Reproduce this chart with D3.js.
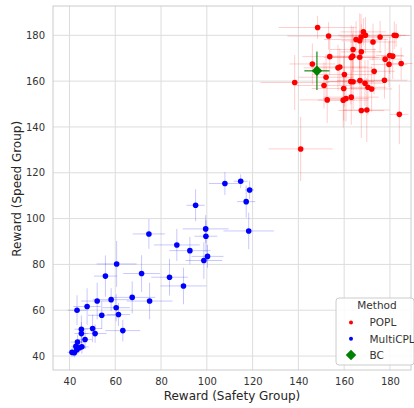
<!DOCTYPE html>
<html>
<head>
<meta charset="utf-8">
<script src="https://cdn.jsdelivr.net/npm/d3@7"></script>
<style>
  body { margin: 0; background: #fff; }
  text { font-family: "DejaVu Sans", sans-serif; }
</style>
</head>
<body>
<div id="chart"></div>
<script>
// POPL runs
const poplX = [148.4, 153.2, 168.4, 169.3, 167.4, 165.2, 166.8, 172.6, 175.7, 181.9, 182.7, 163.9, 167.5, 163.1, 163.7, 166.8,
  153.7, 179.9, 181.2, 177.9, 179.6, 184.9, 146.1, 157.3, 158.1, 173.1, 160.1, 152.1, 138.4, 162.9, 163.9, 166.9,
  169.1, 170.4, 172.0, 177.6, 151.2, 159.8, 152.6, 159.6, 160.8, 163.1, 167.5, 169.9, 184.1, 141.0];
const poplY = [183.4, 179.7, 181.5, 180.0, 179.3, 178.2, 177.6, 177.1, 179.3, 180.0, 179.9, 173.8, 172.8, 170.3, 170.9, 170.4,
  170.7, 171.2, 170.9, 169.6, 167.3, 167.7, 167.5, 165.8, 166.2, 164.3, 162.9, 161.7, 159.4, 159.8, 159.7, 160.3,
  159.1, 157.3, 156.6, 160.4, 158.1, 156.8, 151.8, 151.7, 152.4, 153.0, 147.2, 147.4, 145.5, 130.4];
const poplXErr = [17, 18, 10, 12, 9, 14, 8, 10, 9, 5, 6, 10, 9, 12, 10, 12,
  12, 6, 5, 7, 8, 5, 10, 15, 12, 9, 14, 12, 15, 10, 12, 10,
  8, 8, 9, 10, 12, 14, 12, 11, 10, 12, 10, 10, 4, 14];
const poplYErr = [5, 6, 6, 8, 10, 8, 12, 8, 7, 6, 5, 10, 12, 14, 10, 12,
  8, 8, 10, 9, 10, 7, 9, 10, 8, 10, 14, 10, 12, 10, 12, 14,
  10, 12, 10, 8, 10, 14, 10, 12, 10, 12, 12, 14, 13, 14];

// MultiCPL runs
const multiX = [43.3, 47.7, 52.1, 55.7, 60.6, 58.2, 54.1, 60.4, 61.4, 67.4, 71.5, 74.7, 75.0, 83.7, 86.9, 89.8,
  92.6, 95.1, 63.3, 50.1, 51.2, 45.2, 45.2, 46.8, 43.5, 41.1, 42.1, 43.2, 44.3, 45.4, 42.8,
  99.5, 99.6, 100.3, 98.7, 107.9, 114.8, 118.7, 117.2, 118.3];
const multiY = [60.0, 61.6, 64.0, 74.9, 80.2, 64.6, 57.8, 61.1, 58.1, 65.6, 76.0, 93.3, 64.0, 74.4, 88.5, 70.6,
  86.0, 105.8, 51.1, 52.0, 49.8, 51.7, 49.8, 47.2, 46.1, 41.6, 41.4, 42.7, 43.6, 44.0, 44.2,
  95.5, 92.3, 83.5, 81.7, 115.3, 116.3, 112.5, 107.4, 94.6];
const multiXErr = [4, 6, 7, 5, 8.7, 8, 6, 6, 5, 10, 8, 7, 10, 8, 10, 10,
  9, 4, 7.6, 4, 5, 3, 3, 3, 3, 2, 2, 2, 3, 3, 2,
  10, 5, 7, 8, 7, 3, 2, 4, 11];
const multiYErr = [6.5, 8, 8, 9, 10, 5, 6, 6, 5, 7, 8, 6.5, 8, 8, 7, 8,
  6, 7, 4.7, 6, 4, 6, 5, 4, 3, 2, 2, 2, 2, 3, 2,
  6, 7, 5, 8, 5, 3, 4, 7, 8];

// BC
const bcX = [148.1];
const bcY = [164.5];
const bcXErr = [5.5];
const bcYErr = [8.4];

const xTicks = [40, 60, 80, 100, 120, 140, 160, 180];
const yTicks = [40, 60, 80, 100, 120, 140, 160, 180];
const methods = ["POPL", "MultiCPL", "BC"];

const width = 414, height = 408;
const margin = { top: 6, right: 3, bottom: 38, left: 53 };

const svg = d3.select("#chart").append("svg").attr("width", width).attr("height", height);

const x = d3.scaleLinear().domain([32.8, 189.2]).range([margin.left, width - margin.right]);
const y = d3.scaleLinear().domain([33.9, 192.8]).range([height - margin.bottom, margin.top]);

// grid
const grid = svg.append("g").attr("class", "grid");
grid.selectAll("line.gx").data(xTicks).enter().append("line")
    .attr("x1", d => x(d)).attr("x2", d => x(d))
    .attr("y1", margin.top).attr("y2", height - margin.bottom)
    .attr("stroke", "#dddddd").attr("stroke-width", 1);
grid.selectAll("line.gy").data(yTicks).enter().append("line")
    .attr("y1", d => y(d)).attr("y2", d => y(d))
    .attr("x1", margin.left).attr("x2", width - margin.right)
    .attr("stroke", "#dddddd").attr("stroke-width", 1);

// frame
svg.append("rect")
    .attr("x", margin.left).attr("y", margin.top)
    .attr("width", width - margin.left - margin.right)
    .attr("height", height - margin.top - margin.bottom)
    .attr("fill", "none").attr("stroke", "#cccccc").attr("stroke-width", 1);

// axes
const xAxis = svg.append("g").attr("transform", "translate(0," + (height - margin.bottom) + ")")
    .call(d3.axisBottom(x).tickValues(xTicks).tickSize(0).tickPadding(8));
const yAxis = svg.append("g").attr("transform", "translate(" + margin.left + ",0)")
    .call(d3.axisLeft(y).tickValues(yTicks).tickSize(0).tickPadding(8));
[xAxis, yAxis].forEach(g => {
    g.select(".domain").remove();
    g.selectAll("text").attr("fill", "#333").attr("font-size", "10px");
});

svg.append("text").text("Reward (Safety Group)")
    .attr("x", x(111)).attr("y", 400)
    .attr("text-anchor", "middle").attr("font-size", "12px").attr("fill", "#262626");
svg.append("text").text("Reward (Speed Group)")
    .attr("transform", "translate(21," + y(113) + ") rotate(-90)")
    .attr("text-anchor", "middle").attr("font-size", "12px").attr("fill", "#262626");

// draw one series with error bars
function drawSeries(xs, ys, xe, ye, color, errOpacity, errWidth) {
    const g = svg.append("g");
    const idx = d3.range(xs.length);
    g.selectAll("line.ex").data(idx).enter().append("line")
        .attr("x1", i => x(xs[i] - xe[i])).attr("x2", i => x(xs[i] + xe[i]))
        .attr("y1", i => y(ys[i])).attr("y2", i => y(ys[i]))
        .attr("stroke", color).attr("stroke-opacity", errOpacity).attr("stroke-width", errWidth);
    g.selectAll("line.ey").data(idx).enter().append("line")
        .attr("x1", i => x(xs[i])).attr("x2", i => x(xs[i]))
        .attr("y1", i => y(ys[i] - ye[i])).attr("y2", i => y(ys[i] + ye[i]))
        .attr("stroke", color).attr("stroke-opacity", errOpacity).attr("stroke-width", errWidth);
    return g;
}

const popl = drawSeries(poplX, poplY, poplXErr, poplYErr, "#ff0000", 0.2, 1);
popl.selectAll("circle").data(d3.range(poplX.length)).enter().append("circle")
    .attr("cx", i => x(poplX[i])).attr("cy", i => y(poplY[i])).attr("r", 2.8).attr("fill", "#ff0000");

const multi = drawSeries(multiX, multiY, multiXErr, multiYErr, "#0000ff", 0.22, 1);
multi.selectAll("circle").data(d3.range(multiX.length)).enter().append("circle")
    .attr("cx", i => x(multiX[i])).attr("cy", i => y(multiY[i])).attr("r", 2.8).attr("fill", "#0000ff");

const bc = drawSeries(bcX, bcY, bcXErr, bcYErr, "#008000", 0.85, 1.3);
const diamond = d3.symbol().type(d3.symbolDiamond2).size(70);
bc.selectAll("path.m").data(d3.range(bcX.length)).enter().append("path")
    .attr("d", diamond)
    .attr("transform", i => "translate(" + x(bcX[i]) + "," + y(bcY[i]) + ")")
    .attr("fill", "#008000");

// legend
const lg = svg.append("g").attr("transform", "translate(336,298)");
lg.append("rect").attr("width", 78).attr("height", 67).attr("rx", 3)
    .attr("fill", "#fff").attr("fill-opacity", 0.85).attr("stroke", "#cccccc");
lg.append("text").text("Method").attr("x", 41).attr("y", 11)
    .attr("text-anchor", "middle").attr("font-size", "10.5px").attr("fill", "#333");
const legendColors = ["#ff0000", "#0000ff", "#008000"];
methods.forEach((m, i) => {
    const ly = 24.5 + i * 16.2;
    if (i < 2) {
        lg.append("circle").attr("cx", 15).attr("cy", ly).attr("r", 2).attr("fill", legendColors[i]);
    } else {
        lg.append("path").attr("d", d3.symbol().type(d3.symbolDiamond2).size(70))
            .attr("transform", "translate(15," + ly + ")").attr("fill", legendColors[i]);
    }
    lg.append("text").text(m).attr("x", 33.5).attr("y", ly + 3.8)
        .attr("font-size", "10.5px").attr("fill", "#333");
});
</script>
</body>
</html>
